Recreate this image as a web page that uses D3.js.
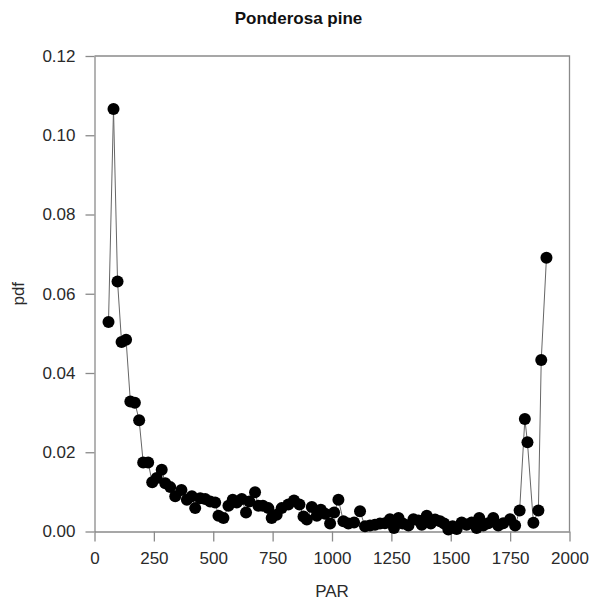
<!DOCTYPE html>
<html>
<head>
<meta charset="utf-8">
<script src="https://cdn.jsdelivr.net/npm/d3@7"></script>
<style>
  html, body { margin: 0; padding: 0; background: #fff; }
  svg { display: block; font-family: Arial, "Liberation Sans", sans-serif; }
</style>
</head>
<body>
<svg id="chart" width="597" height="606"></svg>
<script>
const title = "Ponderosa pine";
const xLabel = "PAR";
const yLabel = "pdf";
const xTicks = [0, 250, 500, 750, 1000, 1250, 1500, 1750, 2000];
const yTicks = [0, 0.02, 0.04, 0.06, 0.08, 0.10, 0.12];

const par = [59, 80, 97, 114, 133, 151, 170, 188, 205, 226, 243, 262, 283, 298, 319, 340, 366, 389, 410, 424,
  445, 466, 487, 508, 522, 543, 564, 582, 599, 620, 638, 652, 676, 690, 709, 732, 746, 767, 788, 816,
  840, 863, 880, 894, 915, 936, 953, 971, 992, 1009, 1027, 1048, 1069, 1093, 1118, 1139, 1160, 1181, 1202, 1223,
  1244, 1261, 1280, 1298, 1322, 1343, 1364, 1378, 1399, 1416, 1434, 1455, 1472, 1490, 1508, 1525, 1546, 1567, 1588, 1609,
  1620, 1637, 1658, 1679, 1700, 1721, 1750, 1771, 1790, 1812, 1823, 1848, 1869, 1881, 1903];

const pdf = [0.0529, 0.1066, 0.0631, 0.0478, 0.0484, 0.0328, 0.0325, 0.0281, 0.0174, 0.0174, 0.0124, 0.0135, 0.0156, 0.0122, 0.0112, 0.0089, 0.0105, 0.0080, 0.0089, 0.0059,
  0.0084, 0.0082, 0.0076, 0.0073, 0.0040, 0.0034, 0.0065, 0.0080, 0.0073, 0.0082, 0.0048, 0.0076, 0.0099, 0.0065, 0.0065, 0.0059, 0.0034, 0.0042, 0.0059, 0.0068,
  0.0078, 0.0068, 0.0038, 0.0030, 0.0062, 0.0040, 0.0055, 0.0045, 0.0020, 0.0048, 0.0080, 0.0026, 0.0020, 0.0023, 0.0051, 0.0013, 0.0015, 0.0017, 0.0020, 0.0021,
  0.0031, 0.0009, 0.0034, 0.0020, 0.0015, 0.0031, 0.0028, 0.0017, 0.0040, 0.0020, 0.0030, 0.0026, 0.0020, 0.0005, 0.0013, 0.0006, 0.0023, 0.0017, 0.0023, 0.0009,
  0.0034, 0.0015, 0.0021, 0.0034, 0.0015, 0.0021, 0.0031, 0.0015, 0.0053, 0.0284, 0.0225, 0.0022, 0.0053, 0.0433, 0.0691];

(function () {
const data = par.map((p, i) => ({ x: p, y: pdf[i] }));

const svg = d3.select("#chart");
const mLeft = 94.5, mRight = 569.5, mTop = 56, mBottom = 531.5;

const x = d3.scaleLinear().domain([0, 2000]).range([mLeft, mRight]);
const y = d3.scaleLinear().domain([0, 0.12]).range([mBottom, mTop]);

const axisColor = "#8a8a8a";
const textColor = "#2a2a2a";

// frame (top and right)
svg.append("path")
  .attr("d", `M${mLeft},${mTop}H${mRight}V${mBottom}`)
  .attr("fill", "none").attr("stroke", axisColor).attr("stroke-width", 1.3);

// x axis
const gx = svg.append("g").attr("transform", `translate(0,${mBottom})`)
  .call(d3.axisBottom(x).tickValues(xTicks).tickSize(10).tickSizeOuter(0).tickPadding(10).tickFormat(d3.format("d")));
// y axis
const gy = svg.append("g").attr("transform", `translate(${mLeft},0)`)
  .call(d3.axisLeft(y).tickValues(yTicks).tickSize(9).tickSizeOuter(0).tickPadding(10).tickFormat(d3.format(".2f")));

[gx, gy].forEach(g => {
  g.select(".domain").attr("stroke", axisColor).attr("stroke-width", 1.3);
  g.selectAll(".tick line").attr("stroke", axisColor).attr("stroke-width", 1.3);
  g.selectAll(".tick text").attr("fill", textColor).style("font-size", "17px")
    .style("font-family", "Arial, 'Liberation Sans', sans-serif");
});

// connecting line
svg.append("path")
  .datum(data)
  .attr("d", d3.line().x(d => x(d.x)).y(d => y(d.y)))
  .attr("fill", "none")
  .attr("stroke", "#666")
  .attr("stroke-width", 1);

// markers
svg.append("g").selectAll("circle")
  .data(data).join("circle")
  .attr("cx", d => x(d.x))
  .attr("cy", d => y(d.y))
  .attr("r", 6)
  .attr("fill", "#000");

// title
svg.append("text")
  .attr("x", 298.5).attr("y", 23.5)
  .attr("text-anchor", "middle")
  .attr("font-weight", "bold").attr("font-size", 17)
  .attr("fill", "#111")
  .text(title);

// axis labels
svg.append("text")
  .attr("x", (mLeft + mRight) / 2).attr("y", 597)
  .attr("text-anchor", "middle").attr("font-size", 17)
  .attr("fill", textColor)
  .text(xLabel);

svg.append("text")
  .attr("transform", `translate(24,${(mTop + mBottom) / 2}) rotate(-90)`)
  .attr("text-anchor", "middle").attr("font-size", 17)
  .attr("fill", textColor)
  .text(yLabel);
})();
</script>
</body>
</html>
